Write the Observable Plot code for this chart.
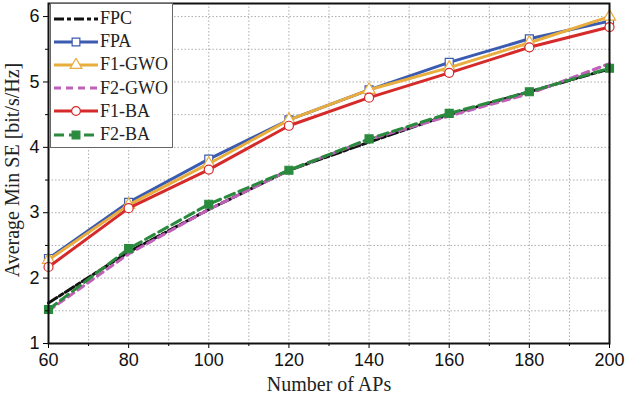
<!DOCTYPE html>
<html><head><meta charset="utf-8">
<script src="https://cdn.jsdelivr.net/npm/d3@7"></script>
<script src="https://cdn.jsdelivr.net/npm/@observablehq/plot@0.6"></script>
<style>
body{margin:0;background:#fff;}
#wrap{position:relative;width:627px;height:399px;}
#legend{position:absolute;left:50px;top:3px;width:123px;height:145px;border:1px solid #666;background:#fff;box-sizing:border-box;}
.item{display:flex;align-items:center;height:23.2px;font-family:"Liberation Serif",serif;font-size:18px;color:#222;}
.item svg{margin-left:2px;margin-right:1px;}
</style></head><body>
<div id="wrap"></div>
<script>
const aps = [60, 80, 100, 120, 140, 160, 180, 200];
const FPC    = [1.62, 2.40, 3.05, 3.65, 4.08, 4.50, 4.85, 5.20];
const FPA    = [2.30, 3.16, 3.82, 4.42, 4.88, 5.30, 5.66, 5.93];
const F1_GWO = [2.28, 3.12, 3.75, 4.42, 4.88, 5.22, 5.60, 6.00];
const F2_GWO = [1.50, 2.37, 3.05, 3.65, 4.12, 4.48, 4.82, 5.28];
const F1_BA  = [2.17, 3.07, 3.66, 4.33, 4.76, 5.14, 5.53, 5.84];
const F2_BA  = [1.52, 2.45, 3.13, 3.65, 4.13, 4.52, 4.85, 5.21];
const xTicks = [60, 80, 100, 120, 140, 160, 180, 200];
const yTicks = [1, 2, 3, 4, 5, 6];

const series = [
  {name: "FPC",    vals: FPC,    color: "#111111", dash: "10,3,4,3", symbol: null},
  {name: "FPA",    vals: FPA,    color: "#3b5bb0", dash: null, symbol: "square", fill: "#fff"},
  {name: "F1-GWO", vals: F1_GWO, color: "#e8ad3c", dash: null, symbol: "triangle", fill: "#fff"},
  {name: "F2-GWO", vals: F2_GWO, color: "#c060b8", dash: "7,5", symbol: null},
  {name: "F1-BA",  vals: F1_BA,  color: "#d62a2a", dash: null, symbol: "circle", fill: "#fff"},
  {name: "F2-BA",  vals: F2_BA,  color: "#2a8a3e", dash: "10,5", symbol: "square", fill: "#2a8a3e"}
];
const rows = series.flatMap(s => aps.map((x, i) => ({x, y: s.vals[i], name: s.name})));

const marks = [
  Plot.gridX(d3.range(60, 201, 10), {stroke: "#999", strokeDasharray: "1.5,2", strokeOpacity: 0.8}),
  Plot.gridY(d3.range(1, 6.01, 0.5), {stroke: "#999", strokeDasharray: "1.5,2", strokeOpacity: 0.8}),
];
for (const s of series) {
  const d = rows.filter(r => r.name === s.name);
  marks.push(Plot.line(d, {x: "x", y: "y", stroke: s.color, strokeWidth: 3, strokeDasharray: s.dash || undefined}));
  if (s.symbol) marks.push(Plot.dot(d, {x: "x", y: "y", symbol: s.symbol, r: 4.5, stroke: s.color, fill: s.fill, strokeWidth: 1.2}));
}
const tickFont = "Liberation Sans, Arial, sans-serif";
marks.push(
  Plot.axisX(xTicks, {tickSize: 5, fontSize: 18, fontFamily: tickFont, fill: "#111", tickPadding: 5, label: null, tickFormat: "d"}),
  Plot.axisX(d3.range(70, 200, 20), {tickSize: 3, text: null, label: null}),
  Plot.axisY(yTicks, {tickSize: 5, fontSize: 18, fontFamily: tickFont, fill: "#111", tickPadding: 4, label: null, tickFormat: "d"}),
  Plot.axisY(d3.range(1.5, 6, 1), {tickSize: 3, text: null, label: null}),
  Plot.frame({stroke: "#111", strokeWidth: 2})
);

const chart = Plot.plot({
  width: 627, height: 399,
  marginLeft: 48, marginRight: 18, marginTop: 3, marginBottom: 56,
  x: {domain: [60, 200]},
  y: {domain: [1, 6.2]},
  style: {background: "#fff"},
  marks
});
const svg = d3.select(chart);
svg.append("text").attr("x", 329).attr("y", 391).attr("text-anchor", "middle")
  .attr("font-family", "Liberation Serif, serif").attr("font-size", 20).attr("fill", "#222").text("Number of APs");
svg.append("text").attr("transform", "translate(19,170) rotate(-90)").attr("text-anchor", "middle")
  .attr("font-family", "Liberation Serif, serif").attr("font-size", 20).attr("fill", "#222").text("Average Min SE [bit/s/Hz]");

const wrap = document.getElementById("wrap");
wrap.appendChild(chart);
const leg = document.createElement("div");
leg.id = "legend";
leg.style.paddingTop = "3px";
wrap.appendChild(leg);
for (const s of series) {
  const it = d3.select(leg).append("div").attr("class", "item");
  const sv = it.append("svg").attr("width", 46).attr("height", 14);
  sv.append("line").attr("x1", 1).attr("x2", 45).attr("y1", 7).attr("y2", 7)
    .attr("stroke", s.color).attr("stroke-width", 3).attr("stroke-dasharray", s.dash || null);
  if (s.symbol) {
    const sym = {square: d3.symbolSquare, triangle: d3.symbolTriangle, circle: d3.symbolCircle}[s.symbol];
    sv.append("path").attr("d", d3.symbol(sym, 60)()).attr("transform", "translate(23,7)")
      .attr("stroke", s.color).attr("fill", s.fill).attr("stroke-width", 1.2);
  }
  it.append("span").text(s.name);
}
</script></body></html>
